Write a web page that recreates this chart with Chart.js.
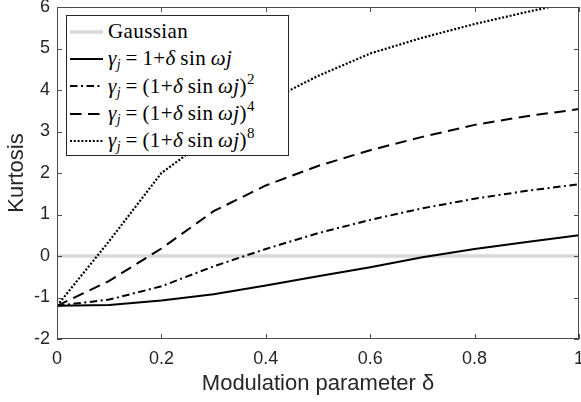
<!DOCTYPE html>
<html>
<head>
<meta charset="utf-8">
<script src="https://cdn.jsdelivr.net/npm/chart.js@4/dist/chart.umd.min.js"></script>
<style>
  html, body { margin: 0; padding: 0; background: #fff; }
  #wrap { position: relative; width: 581px; height: 402px; overflow: hidden; }
  #legend {
    position: absolute; box-sizing: border-box; background: #fff;
    border: 1px solid #262626; padding: 2px 0 0 0;
    font-family: "Liberation Serif", "Times New Roman", serif; font-size: 21px; color: #000;
    letter-spacing: 0.4px;
  }
  #legend .row { display: flex; align-items: center; height: 27.3px; white-space: nowrap; }
  #legend svg { flex: none; margin-left: 3px; margin-right: 5px; }
  #legend i { font-style: italic; }
  #legend sub { font-size: 14px; vertical-align: -4px; line-height: 0; }
  #legend sup { font-size: 15px; vertical-align: 9px; line-height: 0; }
</style>
</head>
<body>
<div id="wrap">
  <canvas id="c" width="581" height="402"></canvas>
  <div id="legend"></div>
</div>
<script>
// ---- data ----
const deltas      = [0, 0.1, 0.2, 0.3, 0.4, 0.5, 0.6, 0.7, 0.8, 0.9, 1.0];
const gaussian    = [0, 0, 0, 0, 0, 0, 0, 0, 0, 0, 0];
const kurtLinear  = [-1.2, -1.18, -1.07, -0.92, -0.71, -0.49, -0.27, -0.03, 0.17, 0.34, 0.50];
const kurtSquare  = [-1.2, -1.05, -0.73, -0.25, 0.17, 0.55, 0.87, 1.15, 1.38, 1.57, 1.73];
const kurtFourth  = [-1.2, -0.60, 0.18, 1.08, 1.70, 2.17, 2.55, 2.87, 3.16, 3.37, 3.54];
const kurtEighth  = [-1.2, 0.36, 2.00, 2.92, 3.70, 4.34, 4.88, 5.26, 5.59, 5.88, 6.15];
const xTickValues = [0, 0.2, 0.4, 0.6, 0.8, 1];
const yTickValues = [-2, -1, 0, 1, 2, 3, 4, 5, 6];
const seriesNames = ['Gaussian', 'γj = 1+δ sin ωj', 'γj = (1+δ sin ωj)^2', 'γj = (1+δ sin ωj)^4', 'γj = (1+δ sin ωj)^8'];
const legendMarkup = [
  'Gaussian',
  '<i>γ</i><sub><i>j</i></sub>&#8201;=&#8201;1+<i>δ</i>&#8201;sin&#8201;<i>ωj</i>',
  '<i>γ</i><sub><i>j</i></sub>&#8201;=&#8201;(1+<i>δ</i>&#8201;sin&#8201;<i>ωj</i>)<sup>2</sup>',
  '<i>γ</i><sub><i>j</i></sub>&#8201;=&#8201;(1+<i>δ</i>&#8201;sin&#8201;<i>ωj</i>)<sup>4</sup>',
  '<i>γ</i><sub><i>j</i></sub>&#8201;=&#8201;(1+<i>δ</i>&#8201;sin&#8201;<i>ωj</i>)<sup>8</sup>'
];
const xTitle = 'Modulation parameter δ';
const yTitle = 'Kurtosis';

const pts = (ys) => deltas.map((d, i) => ({ x: d, y: ys[i] }));

const TICK_FONT = { family: '"Liberation Sans", Arial, Helvetica, sans-serif', size: 18 };
const TITLE_FONT = { family: '"Liberation Sans", Arial, Helvetica, sans-serif', size: 22 };

const framePlugin = {
  id: 'frame',
  afterDatasetsDraw(chart) {
    const { ctx, chartArea: a, scales: { x, y } } = chart;
    const tl = 5;
    ctx.save();
    ctx.strokeStyle = '#4a4a4a';
    ctx.lineWidth = 1;
    ctx.beginPath();
    ctx.rect(a.left + 0.5, a.top + 0.5, a.right - a.left - 1, a.bottom - a.top - 1);
    x.ticks.forEach(t => {
      const px = Math.round(x.getPixelForValue(t.value)) + 0.5;
      ctx.moveTo(px, a.bottom); ctx.lineTo(px, a.bottom - tl);
      ctx.moveTo(px, a.top); ctx.lineTo(px, a.top + tl);
    });
    y.ticks.forEach(t => {
      const py = Math.round(y.getPixelForValue(t.value)) + 0.5;
      ctx.moveTo(a.left, py); ctx.lineTo(a.left + tl, py);
      ctx.moveTo(a.right, py); ctx.lineTo(a.right - tl, py);
    });
    ctx.stroke();
    ctx.restore();
  }
};

const styles = [
  { color: '#d9d9d9', width: 3.5, dash: [] },
  { color: '#000000', width: 2, dash: [] },
  { color: '#000000', width: 2, dash: [7.5, 3.5, 2, 3.5] },
  { color: '#000000', width: 2, dash: [11.5, 6.5] },
  { color: '#000000', width: 2.2, dash: [2, 1.8] }
];
const seriesData = [gaussian, kurtLinear, kurtSquare, kurtFourth, kurtEighth];

const chart = new Chart(document.getElementById('c'), {
  type: 'line',
  data: {
    datasets: seriesData.map((s, i) => ({
      label: seriesNames[i],
      data: pts(s),
      borderColor: styles[i].color,
      borderWidth: styles[i].width,
      borderDash: styles[i].dash,
      borderCapStyle: 'butt',
      pointRadius: 0,
      tension: 0,
      fill: false,
      order: i === 0 ? 10 : 5 - i
    }))
  },
  options: {
    responsive: false,
    animation: false,
    devicePixelRatio: 1,
    layout: { padding: { left: 0, right: 2, top: 7, bottom: 0 } },
    plugins: { legend: { display: false }, tooltip: { enabled: false } },
    scales: {
      x: {
        type: 'linear', min: 0, max: 1,
        afterBuildTicks: (s) => { s.ticks = xTickValues.map(v => ({ value: v })); },
        afterFit: (s) => { s.height = 63; s.paddingLeft = 0; s.paddingRight = 0; },
        grid: { display: false, drawTicks: false },
        border: { display: false },
        ticks: { font: TICK_FONT, color: '#262626', padding: 9, maxRotation: 0,
                 callback: (v) => String(v) },
        title: { display: true, text: xTitle, font: TITLE_FONT, color: '#262626',
                 padding: { top: 0, bottom: 5 } }
      },
      y: {
        type: 'linear', min: -2, max: 6,
        afterBuildTicks: (s) => { s.ticks = yTickValues.map(v => ({ value: v })); },
        afterFit: (s) => { s.width = 57; s.paddingTop = 0; s.paddingBottom = 0; },
        grid: { display: false, drawTicks: false },
        border: { display: false },
        ticks: { font: TICK_FONT, color: '#262626', padding: 7,
                 callback: (v) => String(v) },
        title: { display: true, text: yTitle, font: TITLE_FONT, color: '#262626',
                 padding: { top: 4, bottom: 0 } }
      }
    }
  },
  plugins: [framePlugin]
});

// ---- HTML legend built from the datasets ----
(function buildLegend() {
  const el = document.getElementById('legend');
  const a = chart.chartArea;
  el.style.left = (a.left + 9) + 'px';
  el.style.top = (a.top + 8) + 'px';
  el.style.width = '223px';
  el.style.height = '141px';
  chart.data.datasets.forEach((ds, i) => {
    const row = document.createElement('div');
    row.className = 'row';
    const dash = (ds.borderDash || []).join(' ');
    row.innerHTML =
      '<svg width="33" height="20"><line x1="0" y1="10" x2="33" y2="10" stroke="' + ds.borderColor +
      '" stroke-width="' + ds.borderWidth + '"' + (dash ? ' stroke-dasharray="' + dash + '"' : '') +
      '/></svg><span>' + legendMarkup[i] + '</span>';
    el.appendChild(row);
  });
})();
</script>
</body>
</html>
